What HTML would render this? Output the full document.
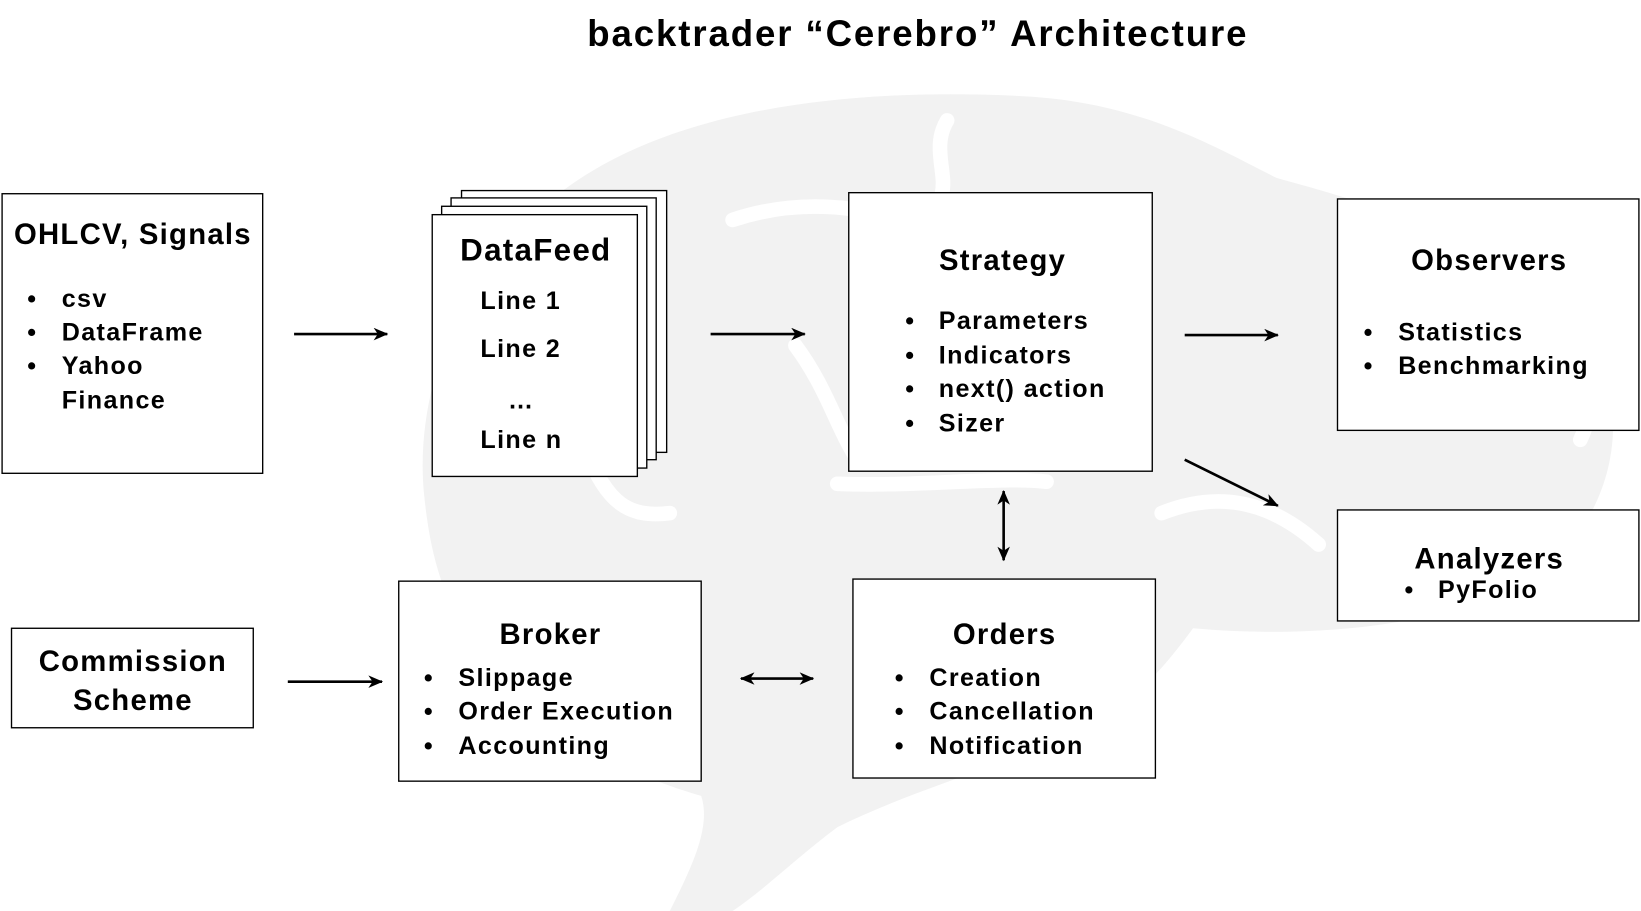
<!DOCTYPE html>
<html><head><meta charset="utf-8"><style>
html,body{margin:0;padding:0;background:#fff;}
svg{display:block}
text{font-family:"Liberation Sans",Arial,sans-serif;font-weight:bold;fill:#000}
</style></head><body>
<svg width="1641" height="911" viewBox="0 0 1568 870" preserveAspectRatio="none" xmlns="http://www.w3.org/2000/svg">
<defs><marker id="a" markerWidth="14" markerHeight="12" refX="13" refY="6" orient="auto" markerUnits="userSpaceOnUse"><path d="M0,0 L14,6 L0,12 L4,6 Z" fill="#000"/></marker>
<marker id="b" markerWidth="14" markerHeight="12" refX="1" refY="6" orient="auto" markerUnits="userSpaceOnUse"><path d="M14,0 L0,6 L14,12 L10,6 Z" fill="#000"/></marker></defs>
<path fill="#f2f2f2" d="M405,470 C395,360 450,220 590,150 C700,95 850,85 980,92 C1090,98 1160,140 1220,170 C1330,200 1420,230 1490,290 C1560,350 1560,470 1480,540 C1400,600 1250,610 1140,600 C1110,640 1080,680 1000,710 C930,740 860,760 800,790 C760,820 730,850 700,870 L640,870 C660,830 680,790 670,760 C600,740 520,700 470,640 C420,580 410,520 405,470 Z"/>
<g fill="none" stroke="#fff" stroke-width="14" stroke-linecap="round">
<path d="M700,210 C760,190 820,195 880,215"/>
<path d="M905,115 C890,140 905,165 900,185"/>
<path d="M760,330 C790,370 800,410 820,440"/>
<path d="M800,462 C880,465 950,455 1000,460"/>
<path d="M1110,490 C1160,470 1210,475 1260,520"/>
<path d="M560,430 C580,480 600,495 640,490"/>
<path d="M1500,360 C1520,380 1520,400 1510,420"/>
</g>
<text x="877" y="44" font-size="35" text-anchor="middle" letter-spacing="1.8">backtrader “Cerebro” Architecture</text>
<g fill="#fff" stroke="#000" stroke-width="1.3">
<rect x="2" y="185" width="249" height="267"/>
<rect x="441" y="182" width="196" height="250"/>
<rect x="431" y="189" width="196" height="250"/>
<rect x="422" y="197" width="196" height="250"/>
<rect x="413" y="205" width="196" height="250"/>
<rect x="811" y="184" width="290" height="266"/>
<rect x="1278" y="190" width="288" height="221"/>
<rect x="1278" y="487" width="288" height="106"/>
<rect x="11" y="600" width="231" height="95"/>
<rect x="381" y="555" width="289" height="191"/>
<rect x="815" y="553" width="289" height="190"/>
</g>
<g stroke="#000" stroke-width="2.5" fill="none">
<line x1="281" y1="319" x2="370" y2="319" marker-end="url(#a)"/>
<line x1="679" y1="319" x2="769" y2="319" marker-end="url(#a)"/>
<line x1="1132" y1="320" x2="1221" y2="320" marker-end="url(#a)"/>
<line x1="1132" y1="439" x2="1221" y2="483" marker-end="url(#a)"/>
<line x1="959" y1="469" x2="959" y2="535" marker-start="url(#b)" marker-end="url(#a)"/>
<line x1="275" y1="651" x2="365" y2="651" marker-end="url(#a)"/>
<line x1="708" y1="648" x2="777" y2="648" marker-start="url(#b)" marker-end="url(#a)"/>
</g>
<g font-size="28" letter-spacing="1.2" text-anchor="middle">
<text x="127" y="233">OHLCV, Signals</text>
<text x="512" y="249" font-size="30">DataFeed</text>
<text x="958" y="258">Strategy</text>
<text x="1423" y="258">Observers</text>
<text x="1423" y="543">Analyzers</text>
<text x="127" y="641">Commission</text>
<text x="127" y="678">Scheme</text>
<text x="526" y="615">Broker</text>
<text x="960" y="615">Orders</text>
</g>
<g font-size="24" letter-spacing="1.3">
<text x="26" y="293">•</text><text x="59" y="293">csv</text>
<text x="26" y="325">•</text><text x="59" y="325">DataFrame</text>
<text x="26" y="357">•</text><text x="59" y="357">Yahoo</text>
<text x="59" y="390">Finance</text>
<text x="459" y="295">Line 1</text>
<text x="459" y="341">Line 2</text>
<text x="498" y="390" text-anchor="middle">…</text>
<text x="459" y="428">Line n</text>
<text x="865" y="314">•</text><text x="897" y="314">Parameters</text>
<text x="865" y="347">•</text><text x="897" y="347">Indicators</text>
<text x="865" y="379">•</text><text x="897" y="379">next() action</text>
<text x="865" y="412">•</text><text x="897" y="412">Sizer</text>
<text x="1303" y="325">•</text><text x="1336" y="325">Statistics</text>
<text x="1303" y="357">•</text><text x="1336" y="357">Benchmarking</text>
<text x="1342" y="571">•</text><text x="1374" y="571">PyFolio</text>
<text x="405" y="655">•</text><text x="438" y="655">Slippage</text>
<text x="405" y="687">•</text><text x="438" y="687">Order Execution</text>
<text x="405" y="720">•</text><text x="438" y="720">Accounting</text>
<text x="855" y="655">•</text><text x="888" y="655">Creation</text>
<text x="855" y="687">•</text><text x="888" y="687">Cancellation</text>
<text x="855" y="720">•</text><text x="888" y="720">Notification</text>
</g>
</svg>
</body></html>
